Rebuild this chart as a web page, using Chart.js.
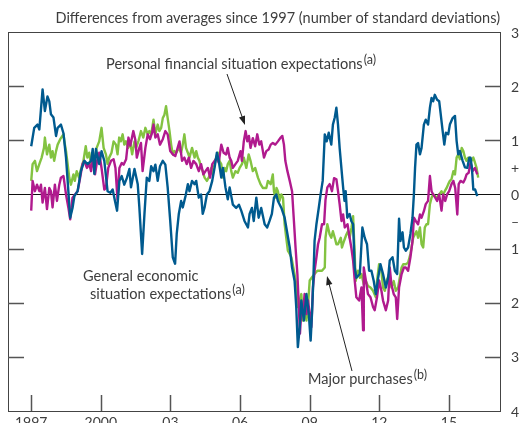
<!DOCTYPE html>
<html lang="en">
  <head>
    <meta charset="UTF-8">
    <title>Consumer expectations</title>
    <script src="https://cdn.jsdelivr.net/npm/chart.js@4/dist/chart.umd.min.js"></script>
    <style>
      html, body { margin: 0; padding: 0; background: #fff; }
      #wrap { width: 523px; height: 423px; }
    </style>
    <script>
      // General economic situation expectations (a) - blue
      const generalDates = [
        1997.00, 1997.13, 1997.27, 1997.35, 1997.49, 1997.59, 1997.70, 1997.78, 1997.85, 1997.96,
        1998.07, 1998.14, 1998.28, 1998.39, 1998.50, 1998.57, 1998.68, 1998.78, 1998.86,
        1999.00, 1999.14, 1999.29, 1999.43, 1999.58, 1999.65, 1999.72, 1999.79, 1999.93,
        2000.03, 2000.15, 2000.29, 2000.41, 2000.51, 2000.61, 2000.70, 2000.80, 2000.90,
        2001.01, 2001.12, 2001.23, 2001.30, 2001.45, 2001.59, 2001.66, 2001.78, 2001.88, 2001.98,
        2002.09, 2002.17, 2002.27, 2002.35, 2002.45, 2002.55, 2002.67, 2002.78, 2002.88, 2002.99,
        2003.10, 2003.20, 2003.27, 2003.36, 2003.46, 2003.53, 2003.65, 2003.75, 2003.82, 2003.93,
        2004.04, 2004.11, 2004.22, 2004.32, 2004.39, 2004.47, 2004.57, 2004.68, 2004.80, 2004.90,
        2005.00, 2005.08, 2005.19, 2005.26, 2005.37, 2005.47, 2005.55, 2005.69, 2005.83, 2005.95,
        2006.05, 2006.19, 2006.34, 2006.41, 2006.51, 2006.59, 2006.70, 2006.80, 2006.91,
        2007.06, 2007.17, 2007.27, 2007.37, 2007.46, 2007.56, 2007.63, 2007.78, 2007.92,
        2008.04, 2008.14, 2008.24, 2008.35, 2008.42, 2008.49, 2008.57, 2008.64, 2008.75, 2008.86, 2008.96,
        2009.04, 2009.10, 2009.16, 2009.21, 2009.29, 2009.39, 2009.47, 2009.56, 2009.65, 2009.73, 2009.82, 2009.93,
        2010.00, 2010.08, 2010.15, 2010.22, 2010.29, 2010.39, 2010.44, 2010.50, 2010.55, 2010.62, 2010.72, 2010.80, 2010.87, 2010.94,
        2011.01, 2011.16, 2011.27, 2011.37, 2011.47, 2011.56, 2011.66, 2011.76, 2011.85, 2011.95,
        2012.05, 2012.16, 2012.28, 2012.38, 2012.45, 2012.57, 2012.67, 2012.77, 2012.85, 2012.91,
        2013.00, 2013.06, 2013.14, 2013.24, 2013.34, 2013.43, 2013.49, 2013.54, 2013.60, 2013.67, 2013.75, 2013.82, 2013.92,
        2014.00, 2014.10, 2014.18, 2014.25, 2014.32, 2014.39, 2014.49, 2014.58, 2014.64, 2014.73, 2014.80, 2014.87, 2014.97,
        2015.04, 2015.16, 2015.26, 2015.33, 2015.40, 2015.47, 2015.59, 2015.69, 2015.79, 2015.88, 2015.93, 2015.99,
        2016.05, 2016.13, 2016.22
      ];
      const generalValues = [
        0.89, 1.23, 1.29, 1.20, 1.94, 1.54, 1.81, 1.72, 1.48, 1.42,
        1.08, 1.23, 1.29, 1.13, 0.68, 0.25, -0.43, -0.25, -0.03,
        0.06, 0.43, 0.62, 0.56, 0.62, 0.84, 0.38, 0.84, 0.56,
        0.80, 0.62, 0.06, 0.03, 0.09, -0.12, -0.30, 0.25, 0.34,
        0.18, 0.30, 0.47, 0.13, 0.47, 0.19, -0.24, -1.10, -0.36, 0.31,
        0.25, 0.52, 0.43, 0.55, 0.25, 0.52, 0.62, 0.55, 0.13, -0.49,
        -1.16, -1.28, -0.73, -0.36, -0.12, -0.24, -0.03, 0.19, 0.06, 0.25,
        0.19, 0.25, -0.06, 0.00, -0.36, -0.24, 0.00, 0.06, 0.25, 0.49,
        0.77, 0.62, 0.31, 0.49, 0.13, -0.09, 0.13, -0.19, -0.25, -0.19,
        -0.30, -0.49, -0.61, -0.36, -0.25, -0.49, -0.06, -0.43, -0.25,
        -0.55, -0.61, -0.49, -0.36, -0.06, 0.00, -0.12, -0.25, -0.43,
        -0.73, -0.98, -1.35, -1.60, -2.08, -2.82, -2.45, -1.96, -2.33, -1.84, -2.20,
        -2.70, -2.20, -1.54, -0.86, -0.55, -0.25, 0.00, 0.25, 1.11, 0.98, 1.14, 0.92,
        1.29, 1.42, 1.60, 1.29, 0.86, 0.37, 0.13, -0.12, 0.06, -0.43, -0.36, -0.50, -0.55, -1.35,
        -1.54, -1.47, -0.61, -0.80, -0.92, -1.41, -1.41, -1.60, -1.84, -1.54,
        -1.29, -1.47, -1.72, -1.54, -1.22, -1.16, -1.41, -1.47, -0.45, -0.86,
        -0.70, -0.98, -1.04, -0.98, -0.73, -0.43, 0.00, 0.49, 0.92, 0.95, 0.74, 0.86, 1.29,
        1.38, 1.29, 1.60, 1.78, 1.72, 1.84, 1.75, 1.72, 1.50, 1.17, 0.92, 1.14, 1.11,
        1.29, 1.41, 1.45, 0.99, 0.74, 0.80, 0.62, 0.50, 0.49, 0.68, 0.68, 0.49,
        0.09, 0.09, -0.03
      ];

      // Personal financial situation expectations (a) - magenta
      const personalDates = [
        1997.00, 1997.06, 1997.16, 1997.25, 1997.35, 1997.42, 1997.49, 1997.59, 1997.68, 1997.78, 1997.85, 1997.92,
        1998.02, 1998.11, 1998.21, 1998.28, 1998.39, 1998.50, 1998.60, 1998.68, 1998.78, 1998.89,
        1999.00, 1999.11, 1999.21, 1999.29, 1999.40, 1999.50, 1999.58, 1999.65, 1999.75, 1999.84, 1999.93,
        2000.03, 2000.15, 2000.22, 2000.32, 2000.44, 2000.55, 2000.63, 2000.72, 2000.80, 2000.90, 2000.98,
        2001.09, 2001.19, 2001.27, 2001.40, 2001.49, 2001.55, 2001.66, 2001.73, 2001.80, 2001.92,
        2002.02, 2002.12, 2002.21, 2002.27, 2002.35, 2002.45, 2002.55, 2002.67, 2002.78, 2002.88, 2002.99,
        2003.10, 2003.21, 2003.31, 2003.39, 2003.50, 2003.60, 2003.70, 2003.79, 2003.89, 2003.99,
        2004.11, 2004.22, 2004.32, 2004.42, 2004.51, 2004.61, 2004.71, 2004.80, 2004.90,
        2005.00, 2005.08, 2005.19, 2005.29, 2005.40, 2005.47, 2005.55, 2005.62, 2005.69, 2005.80, 2005.90,
        2006.02, 2006.08, 2006.16, 2006.24, 2006.31, 2006.38, 2006.45, 2006.55, 2006.65, 2006.74, 2006.83, 2006.91,
        2007.03, 2007.13, 2007.23, 2007.32, 2007.41, 2007.52, 2007.63, 2007.75, 2007.82, 2007.89, 2007.95,
        2008.04, 2008.14, 2008.24, 2008.32, 2008.39, 2008.47, 2008.52, 2008.58, 2008.64, 2008.71, 2008.78, 2008.86, 2008.93,
        2009.00, 2009.07, 2009.14, 2009.21, 2009.29, 2009.36, 2009.43, 2009.53, 2009.62, 2009.68, 2009.76, 2009.86, 2009.96,
        2010.05, 2010.15, 2010.22, 2010.29, 2010.37, 2010.44, 2010.51, 2010.63, 2010.72, 2010.80, 2010.87, 2010.94,
        2011.01, 2011.13, 2011.23, 2011.30, 2011.33, 2011.42, 2011.51, 2011.62, 2011.73, 2011.80, 2011.90, 2011.99,
        2012.09, 2012.16, 2012.28, 2012.38, 2012.45, 2012.52, 2012.62, 2012.71, 2012.77, 2012.85, 2012.96,
        2013.06, 2013.14, 2013.24, 2013.34, 2013.43, 2013.49, 2013.57, 2013.67, 2013.75, 2013.82, 2013.92,
        2014.00, 2014.10, 2014.18, 2014.25, 2014.32, 2014.41, 2014.49, 2014.58, 2014.68, 2014.75, 2014.84, 2014.92,
        2015.01, 2015.11, 2015.19, 2015.27, 2015.36, 2015.42, 2015.50, 2015.62, 2015.69, 2015.76, 2015.85, 2015.93,
        2016.02, 2016.12, 2016.22
      ];
      const personalValues = [
        -0.30, 0.25, 0.06, 0.18, 0.06, 0.18, -0.15, 0.12, -0.27, 0.12, 0.06, -0.24,
        0.18, -0.12, 0.18, 0.31, 0.34, 0.00, -0.24, -0.46, -0.06, 0.00,
        0.06, 0.31, 0.56, 0.62, 0.49, 0.56, 0.43, 0.68, 0.37, 0.62, 0.77,
        0.49, 0.09, 0.12, 0.49, 0.62, 0.65, 0.49, -0.10, 0.49, 0.58, 0.55,
        0.65, 1.05, 0.90, 1.17, 1.00, 0.68, 0.86, 0.95, 0.43, 0.86,
        1.11, 1.02, 1.14, 1.29, 1.05, 1.11, 0.92, 1.02, 1.17, 1.11, 0.80,
        0.74, 0.71, 0.86, 0.98, 0.62, 0.68, 0.56, 0.68, 0.49, 0.62,
        0.56, 0.43, 0.56, 0.37, 0.43, 0.49, 0.31, 0.56, 0.62,
        0.68, 0.59, 0.92, 0.77, 0.74, 0.86, 0.68, 0.62, 0.49, 0.56, 0.62,
        0.80, 0.62, 0.98, 1.17, 0.98, 1.08, 0.86, 1.04, 0.89, 1.11, 0.92, 0.98,
        0.68, 0.80, 0.83, 0.92, 0.95, 0.92, 0.98, 1.05, 1.08, 0.92, 0.62,
        0.43, 0.25, 0.06, -0.49, -0.98, -1.47, -1.96, -2.57, -2.14, -2.21, -1.84, -2.21, -1.96,
        -2.21, -2.45, -1.72, -1.41, -1.16, -0.92, -0.80, -0.55, -0.55, -0.10, 0.13, 0.19, 0.06,
        0.30, 0.28, 0.06, -0.18, -0.49, -0.37, -0.61, -0.55, -0.80, -1.00, -1.22, -1.59,
        -1.90, -1.96, -1.72, -2.51, -1.35, -1.59, -1.84, -1.90, -2.08, -2.14, -1.90, -1.59,
        -1.78, -1.96, -2.14, -1.96, -1.35, -1.66, -1.84, -1.90, -2.30, -1.72, -1.47,
        -1.35, -1.35, -1.41, -1.16, -0.86, -0.43, -0.49, -0.55, -0.37, -0.43, -0.31,
        -0.18, -0.12, 0.34, 0.06, 0.00, -0.06, -0.12, 0.00, -0.30, 0.00, -0.12, 0.00,
        0.06, 0.19, 0.25, 0.12, -0.37, 0.19, 0.25, 0.22, 0.28, 0.37, 0.40, 0.59,
        0.43, 0.49, 0.37
      ];

      // Major purchases (b) - green
      const purchasesDates = [
        1997.00, 1997.06, 1997.16, 1997.25, 1997.35, 1997.45, 1997.55, 1997.59, 1997.68, 1997.78, 1997.85, 1997.92, 1997.99,
        1998.07, 1998.14, 1998.25, 1998.39, 1998.43, 1998.50, 1998.57, 1998.64, 1998.71, 1998.82, 1998.88, 1998.96,
        1999.06, 1999.16, 1999.25, 1999.35, 1999.42, 1999.50, 1999.57, 1999.64, 1999.74, 1999.82, 1999.93,
        2000.03, 2000.12, 2000.22, 2000.29, 2000.36, 2000.46, 2000.55, 2000.65, 2000.72, 2000.79, 2000.86, 2000.94,
        2001.01, 2001.08, 2001.18, 2001.27, 2001.35, 2001.45, 2001.52, 2001.63, 2001.73, 2001.83, 2001.92,
        2002.02, 2002.09, 2002.17, 2002.27, 2002.35, 2002.45, 2002.52, 2002.60, 2002.67, 2002.74, 2002.81, 2002.88, 2002.96,
        2003.03, 2003.10, 2003.17, 2003.25, 2003.36, 2003.46, 2003.53, 2003.60, 2003.67, 2003.75, 2003.82, 2003.93,
        2004.04, 2004.11, 2004.18, 2004.25, 2004.32, 2004.39, 2004.47, 2004.57, 2004.68, 2004.76, 2004.82, 2004.90, 2004.97,
        2005.04, 2005.11, 2005.19, 2005.26, 2005.33, 2005.40, 2005.47, 2005.55, 2005.62, 2005.69, 2005.80, 2005.90, 2005.98,
        2006.08, 2006.16, 2006.27, 2006.37, 2006.45, 2006.55, 2006.65, 2006.77, 2006.88, 2006.98,
        2007.13, 2007.20, 2007.32, 2007.41, 2007.46, 2007.52, 2007.57, 2007.63, 2007.70, 2007.78, 2007.85, 2007.92, 2007.99,
        2008.06, 2008.14, 2008.21, 2008.32, 2008.42, 2008.49, 2008.57, 2008.64, 2008.71, 2008.78, 2008.86, 2008.93,
        2009.00, 2009.10, 2009.21, 2009.33, 2009.43, 2009.53, 2009.65, 2009.68, 2009.76, 2009.86, 2009.93,
        2010.00, 2010.08, 2010.15, 2010.22, 2010.34, 2010.39, 2010.48, 2010.58, 2010.65, 2010.72, 2010.80, 2010.87, 2010.94, 2010.98,
        2011.08, 2011.16, 2011.23, 2011.33, 2011.42, 2011.51, 2011.62, 2011.73, 2011.85, 2011.90, 2011.99,
        2012.09, 2012.16, 2012.24, 2012.31, 2012.42, 2012.52, 2012.62, 2012.71, 2012.81, 2012.88, 2012.96,
        2013.03, 2013.14, 2013.24, 2013.34, 2013.46, 2013.53, 2013.60, 2013.67, 2013.75, 2013.82, 2013.89, 2013.96,
        2014.03, 2014.10, 2014.18, 2014.25, 2014.32, 2014.39, 2014.49, 2014.58, 2014.68, 2014.75, 2014.82, 2014.90, 2014.97,
        2015.04, 2015.11, 2015.19, 2015.26, 2015.33, 2015.40, 2015.47, 2015.55, 2015.62, 2015.69, 2015.76, 2015.83, 2015.90, 2015.97,
        2016.05, 2016.12, 2016.19, 2016.26
      ];
      const purchasesValues = [
        0.25, 0.56, 0.62, 0.43, 0.56, 0.68, 0.86, 1.05, 0.74, 0.92, 0.68, 0.80, 0.62,
        0.80, 0.92, 1.02, 1.11, 0.98, 0.80, 0.56, 0.31, 0.18, 0.37, 0.25, 0.43,
        0.31, 0.49, 0.62, 0.89, 0.68, 0.77, 0.56, 0.62, 0.65, 0.86, 0.98,
        1.23, 0.86, 0.74, 0.56, 0.68, 0.77, 0.98, 0.92, 0.74, 1.05, 0.98, 1.11,
        0.92, 0.98, 0.86, 0.95, 0.74, 0.98, 0.86, 1.00, 1.17, 1.05, 1.23,
        1.11, 1.17, 1.11, 1.38, 1.11, 1.29, 1.17, 1.23, 1.41, 1.47, 1.63, 1.41, 1.17,
        0.92, 0.74, 0.80, 0.77, 0.86, 0.77, 0.92, 1.11, 0.86, 0.77, 0.68, 0.86,
        0.68, 0.80, 0.68, 0.62, 0.49, 0.43, 0.31, 0.25, 0.34, 0.49, 0.37, 0.56, 0.68,
        0.77, 0.62, 0.56, 0.31, 0.49, 0.43, 0.56, 0.62, 0.43, 0.31, 0.43, 0.40, 0.49,
        0.56, 0.68, 0.49, 0.74, 0.62, 0.43, 0.49, 0.31, 0.19, 0.12,
        0.12, 0.25, 0.19, 0.37, 0.06, -0.06, 0.12, 0.06, -0.12, 0.00, -0.06, -0.55, -0.80,
        -1.04, -1.10, -1.16, -1.41, -1.66, -2.08, -1.96, -1.84, -2.33, -2.08, -2.33, -2.02,
        -1.59, -1.53, -1.47, -1.41, -1.41, -1.41, -1.35, -0.80, -0.55, -0.74, -0.80,
        -0.68, -0.80, -0.92, -0.92, -0.80, -0.98, -0.86, -0.74, -0.68, -0.80, -0.62, -0.40, -1.10, -1.60,
        -1.41, -1.54, -1.47, -1.66, -1.60, -1.69, -1.72, -1.78, -1.90, -1.60, -1.29,
        -1.41, -1.72, -1.78, -1.60, -1.47, -1.72, -1.60, -1.78, -1.72, -1.54, -1.35,
        -1.29, -1.29, -1.26, -1.10, -0.80, -0.74, -0.68, -0.80, -0.61, -0.92, -0.98, -0.61,
        -0.55, -0.55, -0.18, -0.06, 0.00, -0.03, -0.06, 0.00, 0.06, 0.00, 0.06, 0.12, 0.19,
        0.25, 0.28, 0.43, 0.37, 0.68, 0.74, 0.65, 0.86, 0.80, 0.68, 0.62, 0.68, 0.68, 0.62,
        0.68, 0.59, 0.49, 0.31
      ];

      const xTickValues = [1997, 2000, 2003, 2006, 2009, 2012, 2015];
      const xTickLabels = ['1997', '2000', '03', '06', '09', '12', '15'];
      const yTickValues = [3, 2, 1, 0.5, 0, -0.5, -1, -2, -3, -4];
      const yTickLabels = ['3', '2', '1', '+', '0', '\u2013', '1', '2', '3', '4'];
      const yGridValues = [2, 1, -1, -2, -3];

      const BLUE = '#005a8f';
      const MAGENTA = '#b01a8e';
      const GREEN = '#83c341';
      const INK = '#3d3d3d';
      const FONT = 'Lato, "Open Sans", sans-serif';

      const toPoints = (dates, values) => dates.map((d, i) => ({ x: d, y: values[i] }));

      // text with a raised footnote marker like "(a)"
      function labelWithNote(ctx, text, note, x, y, size) {
        ctx.font = size + 'px ' + FONT;
        ctx.textAlign = 'left';
        ctx.textBaseline = 'alphabetic';
        ctx.fillText(text, x, y);
        const w = ctx.measureText(text).width;
        if (note) {
          ctx.font = (size - 2) + 'px ' + FONT;
          ctx.fillText(note, x + w + 1, y - 5);
        }
      }

      function arrow(ctx, x1, y1, x2, y2) {
        const ang = Math.atan2(y2 - y1, x2 - x1);
        const len = 9, half = 3.2;
        ctx.strokeStyle = '#222';
        ctx.fillStyle = '#222';
        ctx.lineWidth = 1;
        ctx.beginPath();
        ctx.moveTo(x1, y1);
        ctx.lineTo(x2 - Math.cos(ang) * len * 0.8, y2 - Math.sin(ang) * len * 0.8);
        ctx.stroke();
        ctx.beginPath();
        ctx.moveTo(x2, y2);
        ctx.lineTo(x2 - Math.cos(ang) * len + Math.sin(ang) * half, y2 - Math.sin(ang) * len - Math.cos(ang) * half);
        ctx.lineTo(x2 - Math.cos(ang) * len - Math.sin(ang) * half, y2 - Math.sin(ang) * len + Math.cos(ang) * half);
        ctx.closePath();
        ctx.fill();
      }

      const framePlugin = {
        id: 'frame',
        beforeDatasetsDraw(chart) {
          const { ctx, chartArea: a, scales: { y } } = chart;
          const y0 = Math.round(y.getPixelForValue(0)) + 0.5;
          ctx.save();
          ctx.strokeStyle = '#111';
          ctx.lineWidth = 1;
          ctx.beginPath();
          ctx.moveTo(a.left, y0);
          ctx.lineTo(a.right, y0);
          ctx.stroke();
          ctx.restore();
        },
        afterDraw(chart) {
          const { ctx, chartArea: a, scales: { x, y } } = chart;
          ctx.save();
          // box
          ctx.strokeStyle = '#444';
          ctx.lineWidth = 1;
          ctx.strokeRect(a.left + 0.5, a.top + 0.5, a.right - a.left, a.bottom - a.top);

          // inward ticks
          ctx.strokeStyle = '#555';
          ctx.lineWidth = 1.5;
          ctx.beginPath();
          yGridValues.forEach(v => {
            const py = Math.round(y.getPixelForValue(v)) + 0.5;
            ctx.moveTo(a.left, py); ctx.lineTo(a.left + 16, py);
            ctx.moveTo(a.right, py); ctx.lineTo(a.right - 15, py);
          });
          xTickValues.forEach(v => {
            const px = Math.round(x.getPixelForValue(v)) + 0.5;
            ctx.moveTo(px, a.bottom); ctx.lineTo(px, a.bottom - 16);
          });
          ctx.stroke();

          // right hand axis labels
          ctx.fillStyle = INK;
          ctx.font = '14px ' + FONT;
          ctx.textAlign = 'center';
          ctx.textBaseline = 'middle';
          yTickValues.forEach((v, i) => {
            ctx.fillText(yTickLabels[i], a.right + 15, y.getPixelForValue(v) + 1);
          });

          // bottom axis labels
          ctx.textBaseline = 'top';
          xTickValues.forEach((v, i) => {
            ctx.fillText(xTickLabels[i], x.getPixelForValue(v), a.bottom + 4);
          });

          // title
          ctx.font = '14.5px ' + FONT;
          ctx.textAlign = 'right';
          ctx.textBaseline = 'alphabetic';
          ctx.fillText('Differences from averages since 1997 (number of standard deviations)', a.right, 23);

          // annotations
          labelWithNote(ctx, 'Personal financial situation expectations', '(a)', 106, 69, 14.6);
          labelWithNote(ctx, 'General economic', '', 83, 281, 14.6);
          labelWithNote(ctx, 'situation expectations', '(a)', 90, 299, 14.6);
          labelWithNote(ctx, 'Major purchases', '(b)', 308, 384, 14.5);
          arrow(ctx, 227, 74, 245, 125);
          arrow(ctx, 352, 371, 327, 276);
          ctx.restore();
        }
      };

      window.onload = function () {
        const c = document.getElementById('chart').getContext('2d');
        const line = (data, color) => ({
          data: data,
          borderColor: color,
          borderWidth: 2.4,
          pointRadius: 0,
          tension: 0,
          fill: false,
          borderJoinStyle: 'round'
        });
        new Chart(c, {
          type: 'line',
          data: {
            datasets: [
              line(toPoints(generalDates, generalValues), BLUE),
              line(toPoints(personalDates, personalValues), MAGENTA),
              line(toPoints(purchasesDates, purchasesValues), GREEN)
            ]
          },
          options: {
            responsive: false,
            animation: false,
            layout: { padding: { left: 8, top: 32, right: 23, bottom: 12 } },
            plugins: { legend: { display: false }, tooltip: { enabled: false } },
            scales: {
              x: { type: 'linear', min: 1996, max: 2017.2, display: false },
              y: { type: 'linear', min: -4, max: 3, display: false }
            }
          },
          plugins: [framePlugin]
        });
      };
    </script>
  </head>
  <body>
    <div id="wrap">
      <canvas id="chart" width="523" height="423"></canvas>
    </div>
  </body>
</html>
